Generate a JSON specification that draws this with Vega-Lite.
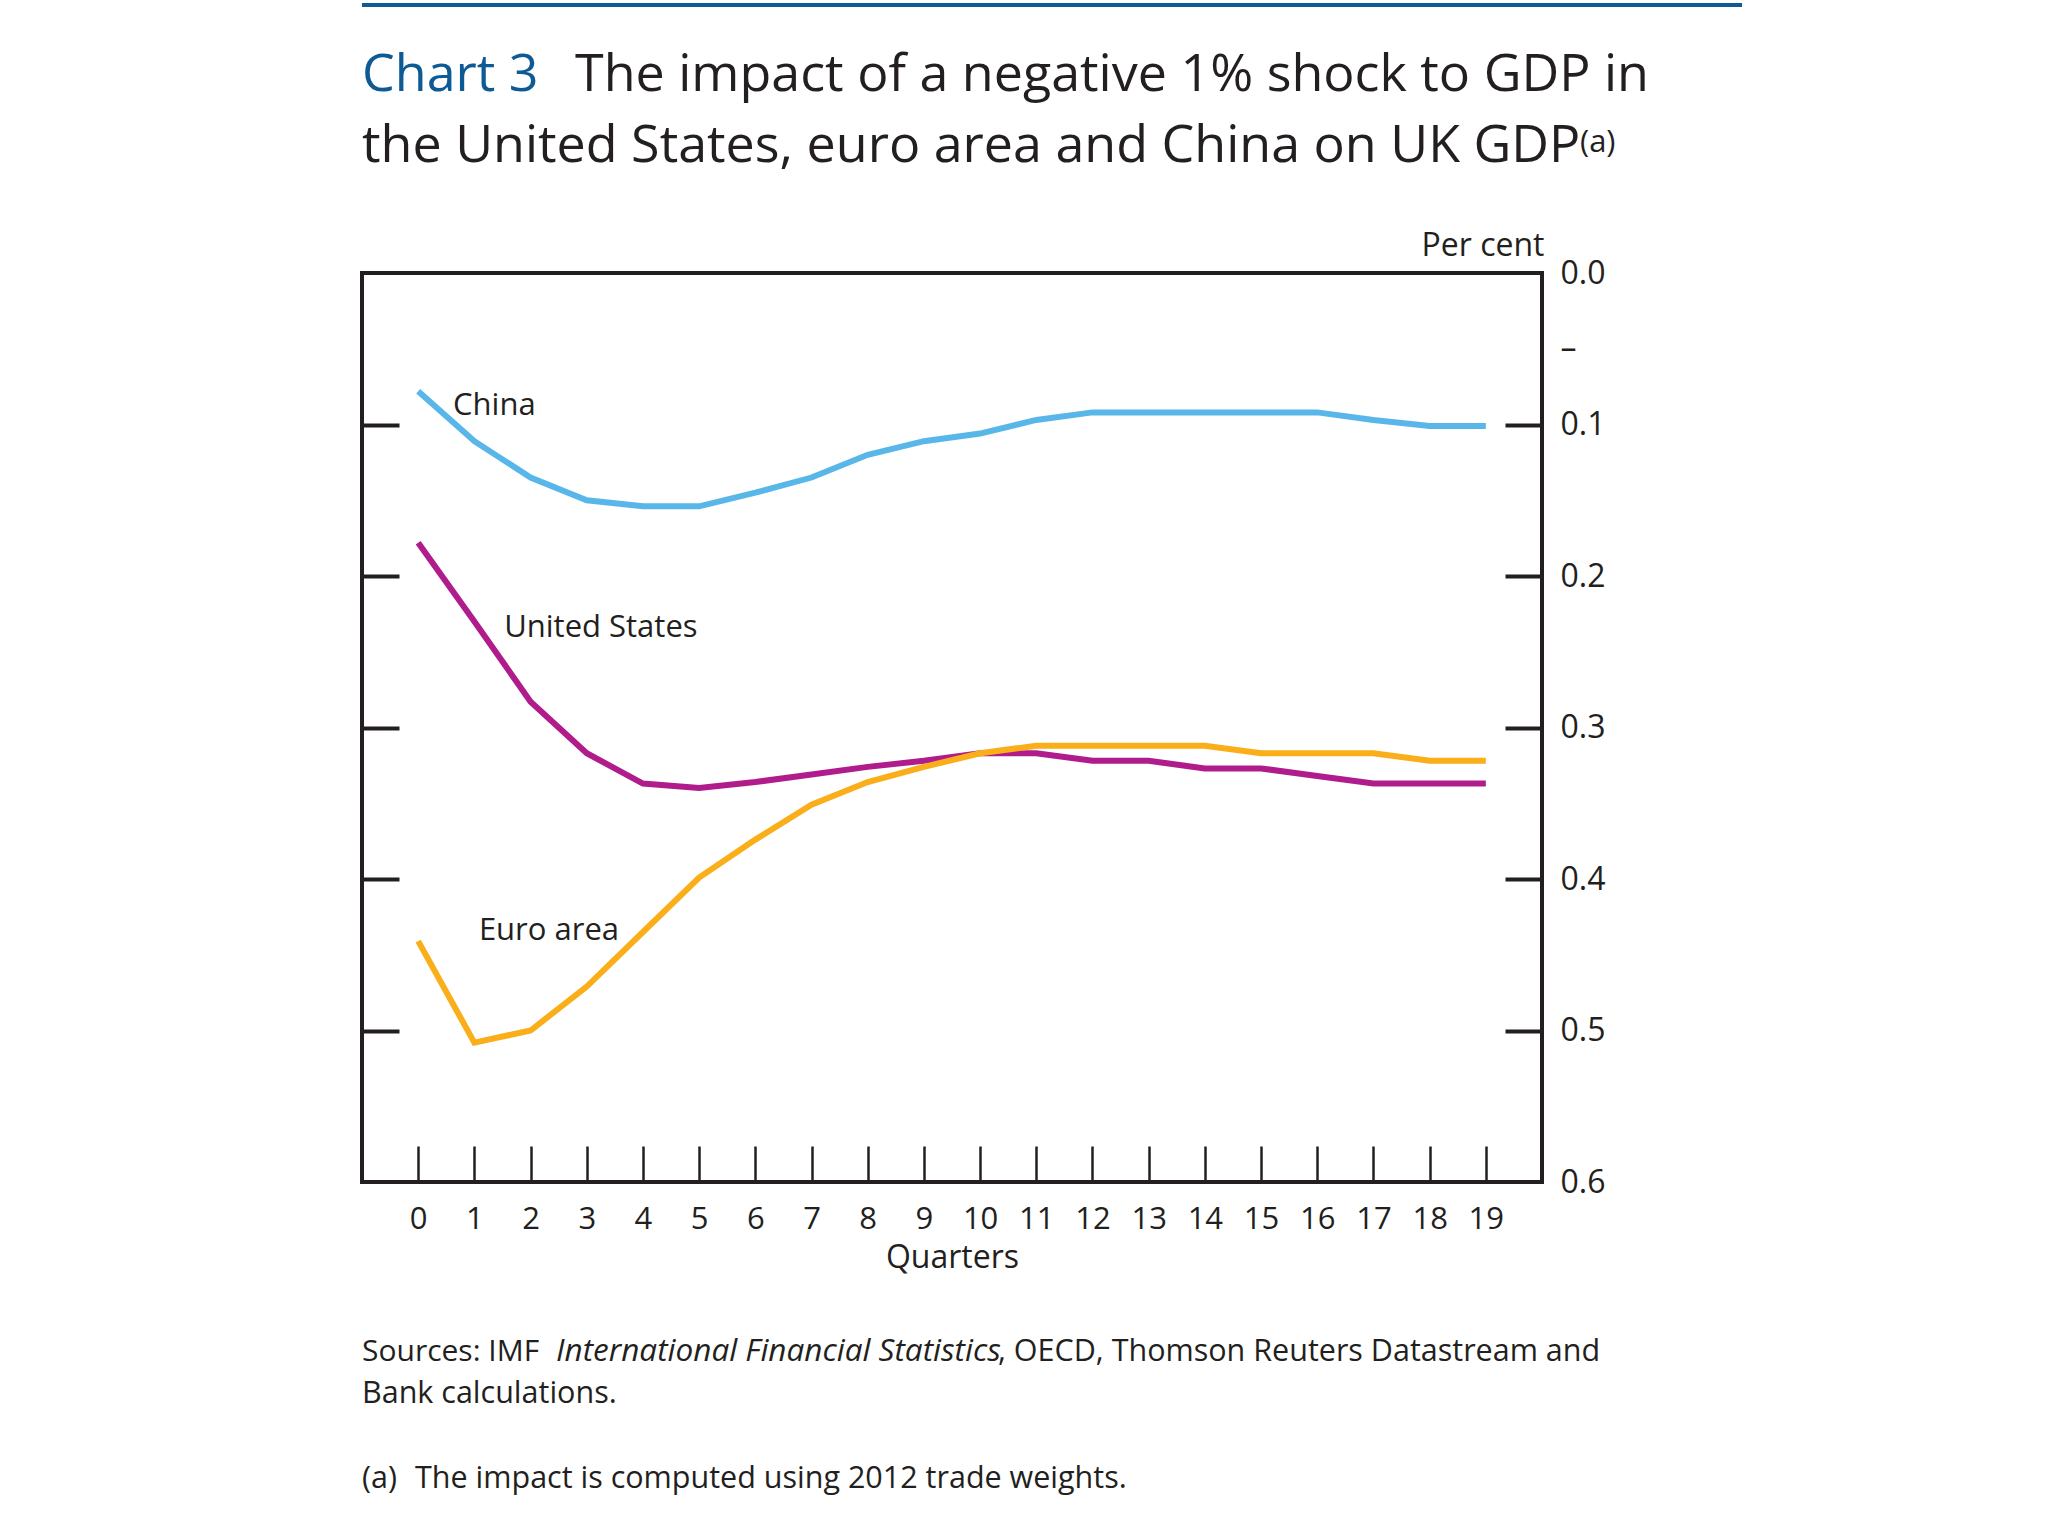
{
  "$schema": "https://vega.github.io/schema/vega-lite/v6.json",
  "padding": {"left": 358, "top": 0, "right": 0, "bottom": 0},
  "spacing": 0,
  "bounds": "flush",
  "config": {
    "font": "Open Sans",
    "text": {"font": "Open Sans", "color": "#231f20"},
    "axis": {"labelFont": "Open Sans", "titleFont": "Open Sans", "labelColor": "#231f20", "titleColor": "#231f20", "tickColor": "#231f20", "grid": false, "domain": false}
  },
  "vconcat": [
    {
      "width": 1380,
      "height": 273,
      "view": {"stroke": null},
      "layer": [
        {
          "data": {"values": [{}]},
          "mark": {"type": "rect", "color": "#0e5a94"},
          "encoding": {"x": {"value": 0}, "x2": {"value": 1380}, "y": {"value": 3}, "y2": {"value": 7}}
        },
        {
          "data": {"values": [{"t": "Chart 3"}]},
          "mark": {"type": "text", "x": 0, "y": 91, "align": "left", "baseline": "alphabetic", "fontSize": 52, "color": "#0e5a94"},
          "encoding": {"text": {"field": "t"}}
        },
        {
          "data": {"values": [{"t": "The impact of a negative 1% shock to GDP in"}]},
          "mark": {"type": "text", "x": 213, "y": 91, "align": "left", "baseline": "alphabetic", "fontSize": 52},
          "encoding": {"text": {"field": "t"}}
        },
        {
          "data": {"values": [{"t": "the United States, euro area and China on UK GDP"}]},
          "mark": {"type": "text", "x": 0, "y": 162, "align": "left", "baseline": "alphabetic", "fontSize": 52},
          "encoding": {"text": {"field": "t"}}
        },
        {
          "data": {"values": [{"t": "(a)"}]},
          "mark": {"type": "text", "x": 1218, "y": 152, "align": "left", "baseline": "alphabetic", "fontSize": 31},
          "encoding": {"text": {"field": "t"}}
        }
      ]
    },
    {
      "width": 1180,
      "height": 909,
      "view": {"stroke": "#231f20", "strokeWidth": 4},
      "data": {"values": [
        {"q": 0, "s": "China", "v": 0.078}, {"q": 1, "s": "China", "v": 0.111}, {"q": 2, "s": "China", "v": 0.135}, {"q": 3, "s": "China", "v": 0.150},
        {"q": 4, "s": "China", "v": 0.154}, {"q": 5, "s": "China", "v": 0.154}, {"q": 6, "s": "China", "v": 0.145}, {"q": 7, "s": "China", "v": 0.135},
        {"q": 8, "s": "China", "v": 0.120}, {"q": 9, "s": "China", "v": 0.111}, {"q": 10, "s": "China", "v": 0.106}, {"q": 11, "s": "China", "v": 0.097},
        {"q": 12, "s": "China", "v": 0.092}, {"q": 13, "s": "China", "v": 0.092}, {"q": 14, "s": "China", "v": 0.092}, {"q": 15, "s": "China", "v": 0.092},
        {"q": 16, "s": "China", "v": 0.092}, {"q": 17, "s": "China", "v": 0.097}, {"q": 18, "s": "China", "v": 0.101}, {"q": 19, "s": "China", "v": 0.101},
        {"q": 0, "s": "United States", "v": 0.178}, {"q": 1, "s": "United States", "v": 0.230}, {"q": 2, "s": "United States", "v": 0.283}, {"q": 3, "s": "United States", "v": 0.317},
        {"q": 4, "s": "United States", "v": 0.337}, {"q": 5, "s": "United States", "v": 0.340}, {"q": 6, "s": "United States", "v": 0.336}, {"q": 7, "s": "United States", "v": 0.331},
        {"q": 8, "s": "United States", "v": 0.326}, {"q": 9, "s": "United States", "v": 0.322}, {"q": 10, "s": "United States", "v": 0.317}, {"q": 11, "s": "United States", "v": 0.317},
        {"q": 12, "s": "United States", "v": 0.322}, {"q": 13, "s": "United States", "v": 0.322}, {"q": 14, "s": "United States", "v": 0.327}, {"q": 15, "s": "United States", "v": 0.327},
        {"q": 16, "s": "United States", "v": 0.332}, {"q": 17, "s": "United States", "v": 0.337}, {"q": 18, "s": "United States", "v": 0.337}, {"q": 19, "s": "United States", "v": 0.337},
        {"q": 0, "s": "Euro area", "v": 0.441}, {"q": 1, "s": "Euro area", "v": 0.508}, {"q": 2, "s": "Euro area", "v": 0.500}, {"q": 3, "s": "Euro area", "v": 0.471},
        {"q": 4, "s": "Euro area", "v": 0.435}, {"q": 5, "s": "Euro area", "v": 0.399}, {"q": 6, "s": "Euro area", "v": 0.374}, {"q": 7, "s": "Euro area", "v": 0.351},
        {"q": 8, "s": "Euro area", "v": 0.336}, {"q": 9, "s": "Euro area", "v": 0.326}, {"q": 10, "s": "Euro area", "v": 0.317}, {"q": 11, "s": "Euro area", "v": 0.312},
        {"q": 12, "s": "Euro area", "v": 0.312}, {"q": 13, "s": "Euro area", "v": 0.312}, {"q": 14, "s": "Euro area", "v": 0.312}, {"q": 15, "s": "Euro area", "v": 0.317},
        {"q": 16, "s": "Euro area", "v": 0.317}, {"q": 17, "s": "Euro area", "v": 0.317}, {"q": 18, "s": "Euro area", "v": 0.322}, {"q": 19, "s": "Euro area", "v": 0.322}
      ]},
      "layer": [
        {
          "mark": {"type": "line", "strokeWidth": 6, "strokeJoin": "miter"},
          "encoding": {
            "x": {"field": "q", "type": "quantitative", "scale": {"domain": [-1, 20], "nice": false, "zero": false},
              "axis": {"values": [0,1,2,3,4,5,6,7,8,9,10,11,12,13,14,15,16,17,18,19], "format": "d", "labelOverlap": false, "tickSize": -36, "tickWidth": 2.5, "labelPadding": 58, "labelFontSize": 31, "title": "Quarters", "titleFontSize": 32, "titleFontWeight": "normal", "titlePadding": 8, "labelFlush": false}},
            "y": {"field": "v", "type": "quantitative", "scale": {"domain": [0, 0.6], "nice": false, "zero": false, "reverse": true},
              "axis": {"orient": "left", "values": [0.1, 0.2, 0.3, 0.4, 0.5], "tickSize": -37, "tickWidth": 4, "labels": false, "title": null}},
            "color": {"field": "s", "type": "nominal", "legend": null,
              "scale": {"domain": ["China", "United States", "Euro area"], "range": ["#58b7e8", "#b01c8b", "#f9ae1a"]}}
          }
        },
        {
          "data": {"values": [
            {"label": "China", "lx": 0.62, "ly": 0.094},
            {"label": "United States", "lx": 1.53, "ly": 0.240},
            {"label": "Euro area", "lx": 1.08, "ly": 0.440}
          ]},
          "mark": {"type": "text", "align": "left", "baseline": "alphabetic", "fontSize": 31},
          "encoding": {
            "x": {"field": "lx", "type": "quantitative"},
            "y": {"field": "ly", "type": "quantitative",
              "axis": {"orient": "right", "values": [0, 0.05, 0.1, 0.2, 0.3, 0.4, 0.5, 0.6],
                "labelExpr": "datum.value == 0.05 ? '–' : format(datum.value, '.1f')",
                "tickSize": -37, "tickWidth": 4,
                "tickOpacity": {"condition": {"test": "datum.value == 0 || datum.value == 0.05 || datum.value == 0.6", "value": 0}, "value": 1},
                "labelPadding": 55, "labelFontSize": 32, "labelFlush": false, "labelOverlap": false, "labelBaseline": "middle",
                "title": "Per cent", "titleAngle": 0, "titleFontSize": 32, "titleFontWeight": "normal",
                "titleAlign": "right", "titleBaseline": "alphabetic", "titleX": 2, "titleY": -18}},
            "text": {"field": "label"}
          }
        }
      ],
      "resolve": {"axis": {"y": "independent"}}
    },
    {
      "width": 1300,
      "height": 354,
      "view": {"stroke": null},
      "layer": [
        {
          "data": {"values": [{"t": "Sources:  IMF"}]},
          "mark": {"type": "text", "x": 0, "y": 179, "align": "left", "baseline": "alphabetic", "fontSize": 30},
          "encoding": {"text": {"field": "t"}}
        },
        {
          "data": {"values": [{"t": "International Financial Statistics"}]},
          "mark": {"type": "text", "x": 194, "y": 179, "align": "left", "baseline": "alphabetic", "fontSize": 31.5, "fontStyle": "italic"},
          "encoding": {"text": {"field": "t"}}
        },
        {
          "data": {"values": [{"t": ", OECD, Thomson Reuters Datastream and"}]},
          "mark": {"type": "text", "x": 636, "y": 179, "align": "left", "baseline": "alphabetic", "fontSize": 30.5},
          "encoding": {"text": {"field": "t"}}
        },
        {
          "data": {"values": [{"t": "Bank calculations."}]},
          "mark": {"type": "text", "x": 0, "y": 221, "align": "left", "baseline": "alphabetic", "fontSize": 30.5},
          "encoding": {"text": {"field": "t"}}
        },
        {
          "data": {"values": [{"t": "(a)"}]},
          "mark": {"type": "text", "x": 0, "y": 306, "align": "left", "baseline": "alphabetic", "fontSize": 30.5},
          "encoding": {"text": {"field": "t"}}
        },
        {
          "data": {"values": [{"t": "The impact is computed using 2012 trade weights."}]},
          "mark": {"type": "text", "x": 53, "y": 306, "align": "left", "baseline": "alphabetic", "fontSize": 30.5},
          "encoding": {"text": {"field": "t"}}
        }
      ]
    }
  ]
}
